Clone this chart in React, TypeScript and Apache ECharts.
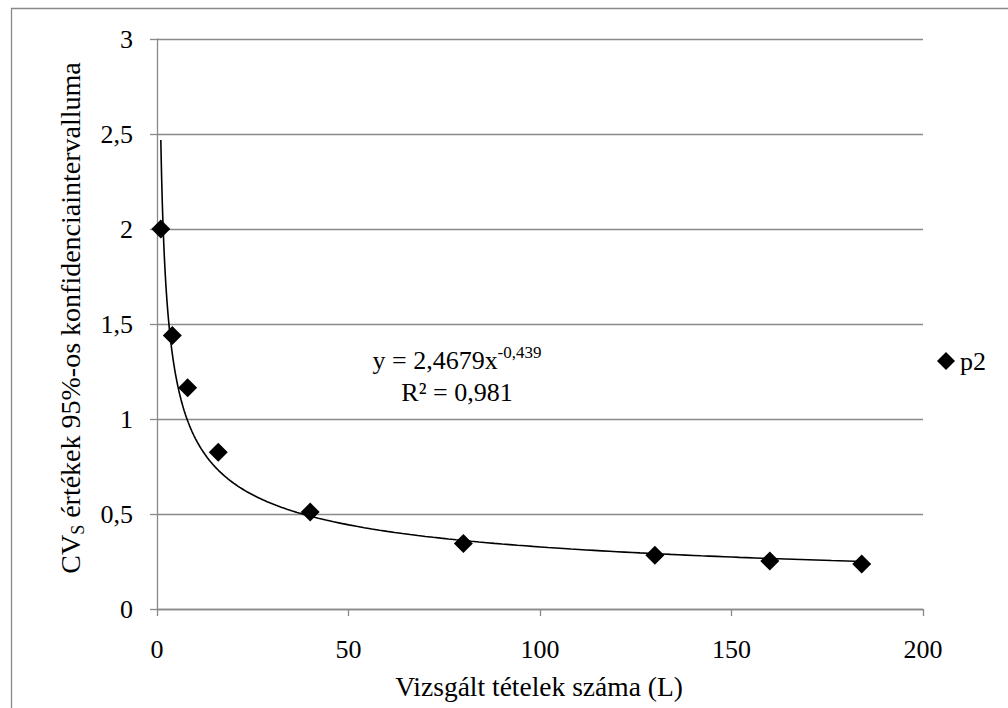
import React, { useEffect, useRef } from 'react';
import * as echarts from 'echarts';

const seriesName = 'p2';
const xValues = [1, 4, 8, 16, 40, 80, 130, 160, 184];
const yValues = [2.0, 1.44, 1.165, 0.825, 0.51, 0.345, 0.283, 0.253, 0.237];

// Power trendline shown on the chart: y = 2,4679 x^-0,439
const trendCoefA = 2.4679;
const trendExpB = -0.439;
const trendXStart = 1;
const trendXEnd = 184;

const xMin = 0;
const xMax = 200;
const xInterval = 50;
const yMin = 0;
const yMax = 3;
const yInterval = 0.5;

const xAxisTitle = 'Vizsgált tételek száma (L)';
const yTitleMain = 'CV';
const yTitleSub = 'S';
const yTitleRest = ' értékek 95%-os konfidenciaintervalluma';
const equationMain = 'y = 2,4679x';
const equationExp = '-0,439';
const rSquaredText = 'R² = 0,981';

const FONT = 'Liberation Serif';
const GRAY = '#898989';

function buildTrend(): number[][] {
  const pts: number[][] = [];
  let x = trendXStart;
  while (x < trendXEnd) {
    pts.push([x, trendCoefA * Math.pow(x, trendExpB)]);
    x += x < 10 ? 0.1 : x < 40 ? 0.5 : 2;
  }
  pts.push([trendXEnd, trendCoefA * Math.pow(trendXEnd, trendExpB)]);
  return pts;
}

const tickRich = { v: { fontFamily: FONT, fontSize: 26, color: '#000' } };

export default function App() {
  const ref = useRef<HTMLDivElement>(null);
  useEffect(() => {
    if (!ref.current) return;
    const chart = echarts.init(ref.current, null, { renderer: 'svg' });
    const scatterData = xValues.map((x, i) => [x, yValues[i]]);
    chart.setOption({
      animation: false,
      backgroundColor: '#ffffff',
      textStyle: { fontFamily: FONT },
      grid: { left: 157, right: 85, top: 39, bottom: 99, containLabel: false },
      legend: {
        data: [{ name: seriesName, icon: 'diamond' }],
        left: 932,
        top: 343,
        itemWidth: 18,
        itemHeight: 18,
        itemGap: 4,
        itemStyle: { opacity: 1, color: '#000' },
        textStyle: { fontFamily: FONT, fontSize: 26, color: '#000' },
      },
      xAxis: {
        type: 'value',
        min: xMin,
        max: xMax,
        interval: xInterval,
        axisLine: { show: true, lineStyle: { color: GRAY, width: 1.3 } },
        axisTick: { show: true, length: 7, inside: false, lineStyle: { color: GRAY, width: 1.3 } },
        splitLine: { show: false },
        axisLabel: {
          fontFamily: FONT,
          fontSize: 26,
          color: '#000',
          margin: 27,
          formatter: (v: number) => `{v|${v}}`,
          rich: tickRich,
        },
      },
      yAxis: {
        type: 'value',
        min: yMin,
        max: yMax,
        interval: yInterval,
        axisLine: { show: true, lineStyle: { color: GRAY, width: 1.3 } },
        axisTick: { show: true, length: 7, inside: false, lineStyle: { color: GRAY, width: 1.3 } },
        splitLine: { show: true, lineStyle: { color: GRAY, width: 1.3 } },
        axisLabel: {
          fontFamily: FONT,
          fontSize: 26,
          color: '#000',
          margin: 24,
          formatter: (v: number) => `{v|${String(v).replace('.', ',')}}`,
          rich: tickRich,
        },
      },
      series: [
        {
          name: 'trend',
          type: 'line',
          data: buildTrend(),
          showSymbol: false,
          symbol: 'none',
          lineStyle: { color: '#000', width: 1.6 },
          silent: true,
        },
        {
          name: seriesName,
          type: 'scatter',
          data: scatterData,
          symbol: 'diamond',
          symbolSize: 19,
          itemStyle: { color: '#000', opacity: 1 },
        },
      ],
      graphic: [
        {
          type: 'rect',
          shape: { x: 11.5, y: 8.5, width: 1100, height: 800 },
          style: { fill: 'none', stroke: GRAY, lineWidth: 1.3 },
          silent: true,
          z: -1,
        },
        {
          type: 'text',
          x: 539,
          y: 686,
          style: {
            text: xAxisTitle,
            fontFamily: FONT,
            fontSize: 27.5,
            fill: '#000',
            align: 'center',
            verticalAlign: 'middle',
          },
        },
        {
          type: 'text',
          x: 70,
          y: 318,
          rotation: Math.PI / 2,
          style: {
            text: `{a|${yTitleMain}}{s|${yTitleSub}}{a|${yTitleRest}}`,
            align: 'center',
            verticalAlign: 'middle',
            rich: {
              a: { fontFamily: FONT, fontSize: 28, lineHeight: 34, fill: '#000', verticalAlign: 'middle' },
              s: { fontFamily: FONT, fontSize: 18, lineHeight: 18, fill: '#000', verticalAlign: 'bottom' },
            },
          },
        },
        {
          type: 'text',
          x: 457,
          y: 360,
          style: {
            text: `{a|${equationMain}}{e|${equationExp}}`,
            align: 'center',
            verticalAlign: 'middle',
            rich: {
              a: { fontFamily: FONT, fontSize: 26, lineHeight: 32, fill: '#000', verticalAlign: 'middle' },
              e: { fontFamily: FONT, fontSize: 17, lineHeight: 17, fill: '#000', verticalAlign: 'top' },
            },
          },
        },
        {
          type: 'text',
          x: 457,
          y: 392,
          style: {
            text: rSquaredText,
            fontFamily: FONT,
            fontSize: 26,
            fill: '#000',
            align: 'center',
            verticalAlign: 'middle',
          },
        },
      ],
    });
    return () => chart.dispose();
  }, []);
  return (
    <div
      ref={ref}
      style={{ position: 'fixed', left: 0, top: 0, width: 1008, height: 708, background: '#fff' }}
    />
  );
}
